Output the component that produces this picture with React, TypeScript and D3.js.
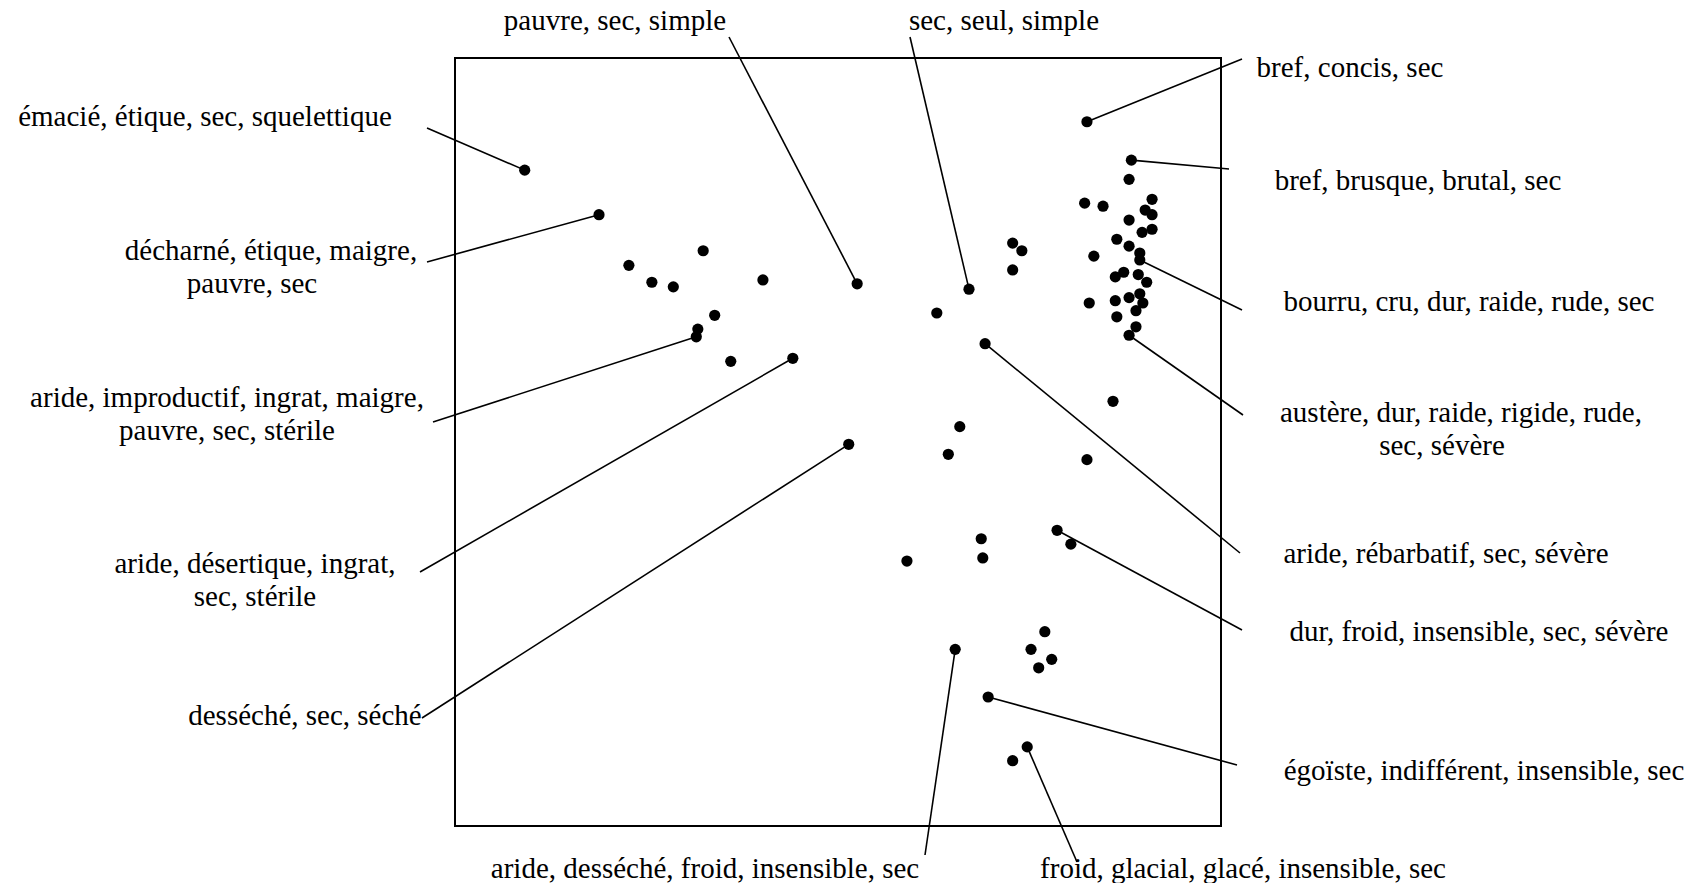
import * as React from 'react';
import * as d3 from 'd3';

// POINT COORDINATES (map units, 0-100 on both axes)
const pointX: number[] = [
    9.1, 18.8, 32.4, 22.7, 25.7, 28.5, 40.2, 33.9, 31.7, 31.5,
    36.0, 44.1, 52.5, 51.4, 82.5, 88.3, 88.0, 82.2, 84.6, 91.0,
    90.1, 91.0, 88.0, 91.0, 89.7, 86.4, 88.0, 89.4, 89.4, 83.4,
    72.8, 74.0, 72.8, 67.1, 62.9, 69.2, 87.3, 86.2, 89.2, 90.3,
    89.4, 88.0, 86.2, 89.8, 82.8, 88.9, 86.4, 88.9, 88.0, 85.9,
    65.9, 64.4, 82.5, 78.6, 80.4, 68.7, 68.9, 59.0, 77.0, 75.2,
    77.9, 76.2, 65.3, 69.6, 74.7, 72.8
];

const pointY: number[] = [
    85.4, 79.6, 74.9, 73.0, 70.8, 70.2, 71.1, 66.5, 64.7, 63.7,
    60.5, 60.9, 70.6, 49.7, 91.7, 86.7, 84.2, 81.1, 80.7, 81.6,
    80.2, 79.6, 78.9, 77.7, 77.3, 76.4, 75.5, 74.6, 73.7, 74.2,
    75.9, 74.9, 72.4, 69.9, 66.8, 62.8, 72.1, 71.5, 71.8, 70.8,
    69.3, 68.8, 68.4, 68.1, 68.1, 67.1, 66.3, 65.0, 63.9, 55.3,
    52.0, 48.4, 47.7, 38.5, 36.7, 37.4, 34.9, 34.5, 25.3, 23.0,
    21.7, 20.6, 23.0, 16.8, 10.3, 8.5
];

// LABEL TEXTS (one entry per annotated point)
const labelTexts: string[][] = [
    ['émacié, étique, sec, squelettique'],
    ['décharné, étique, maigre,', 'pauvre, sec'],
    ['aride, improductif, ingrat, maigre,', 'pauvre, sec, stérile'],
    ['aride, désertique, ingrat,', 'sec, stérile'],
    ['desséché, sec, séché'],
    ['pauvre, sec, simple'],
    ['sec, seul, simple'],
    ['bref, concis, sec'],
    ['bref, brusque, brutal, sec'],
    ['bourru, cru, dur, raide, rude, sec'],
    ['austère, dur, raide, rigide, rude,', 'sec, sévère'],
    ['aride, rébarbatif, sec, sévère'],
    ['dur, froid, insensible, sec, sévère'],
    ['égoïste, indifférent, insensible, sec'],
    ['aride, desséché, froid, insensible, sec'],
    ['froid, glacial, glacé, insensible, sec']
];

// index of the point each label points to
const labelPoint: number[] = [0, 1, 9, 11, 13, 12, 33, 14, 15, 28, 48, 35, 53, 63, 62, 64];

// LABEL LAYOUT (page pixels): text centre per line, first line y, leader end
const labelLayout = [
    { x: [205], y: 116, ex: 427, ey: 128 },
    { x: [271, 252], y: 250, ex: 427, ey: 262 },
    { x: [227, 227], y: 397, ex: 433, ey: 422 },
    { x: [255, 255], y: 563, ex: 420, ey: 572 },
    { x: [305], y: 715, ex: 422, ey: 718 },
    { x: [615], y: 20, ex: 729, ey: 37 },
    { x: [1004], y: 20, ex: 910, ey: 37 },
    { x: [1350], y: 67, ex: 1242, ey: 59 },
    { x: [1418], y: 180, ex: 1229, ey: 169 },
    { x: [1469], y: 301, ex: 1242, ey: 310 },
    { x: [1461, 1442], y: 412, ex: 1243, ey: 415 },
    { x: [1446], y: 553, ex: 1240, ey: 553 },
    { x: [1479], y: 631, ex: 1242, ey: 630 },
    { x: [1484], y: 770, ex: 1237, ey: 765 },
    { x: [705], y: 868, ex: 925, ey: 855 },
    { x: [1243], y: 868, ex: 1077, ey: 862 }
];

const WIDTH = 1700;
const HEIGHT = 883;
const FRAME = { left: 455, right: 1221, top: 58, bottom: 826 };
const FONT = '"Liberation Serif", "Times New Roman", serif';
const FONT_SIZE = 29;
const LINE_HEIGHT = 33;

export default function App() {
    const ref = React.useRef<SVGSVGElement>(null);

    React.useEffect(() => {
        const svg = d3.select(ref.current);
        svg.selectAll('*').remove();

        // SCALES
        const xScale = d3.scaleLinear().domain([0, 100]).range([FRAME.left, FRAME.right]);
        const yScale = d3.scaleLinear().domain([0, 100]).range([FRAME.bottom, FRAME.top]);

        // FRAME
        svg.append('rect')
            .attr('x', FRAME.left)
            .attr('y', FRAME.top)
            .attr('width', FRAME.right - FRAME.left)
            .attr('height', FRAME.bottom - FRAME.top)
            .attr('fill', 'none')
            .attr('stroke', '#000')
            .attr('stroke-width', 2);

        // LEADER LINES
        svg.append('g')
            .selectAll('line')
            .data(labelPoint)
            .join('line')
            .attr('x1', (p) => xScale(pointX[p]))
            .attr('y1', (p) => yScale(pointY[p]))
            .attr('x2', (p, i) => labelLayout[i].ex)
            .attr('y2', (p, i) => labelLayout[i].ey)
            .attr('stroke', '#000')
            .attr('stroke-width', 1.6);

        // POINTS
        svg.append('g')
            .selectAll('circle')
            .data(d3.range(pointX.length))
            .join('circle')
            .attr('cx', (i) => xScale(pointX[i]))
            .attr('cy', (i) => yScale(pointY[i]))
            .attr('r', 5.6)
            .attr('fill', '#000');

        // LABELS
        const labels = svg.append('g')
            .attr('font-family', FONT)
            .attr('font-size', FONT_SIZE)
            .attr('fill', '#000')
            .attr('text-anchor', 'middle');

        labelTexts.forEach((lines, i) => {
            const lay = labelLayout[i];
            lines.forEach((line, k) => {
                labels.append('text')
                    .attr('x', lay.x[k])
                    .attr('y', lay.y + k * LINE_HEIGHT)
                    .attr('dy', '0.35em')
                    .text(line);
            });
        });
    }, []);

    return (
        <svg
            ref={ref}
            width={WIDTH}
            height={HEIGHT}
            style={{ position: 'absolute', left: 0, top: 0, background: '#fff' }}
        />
    );
}
